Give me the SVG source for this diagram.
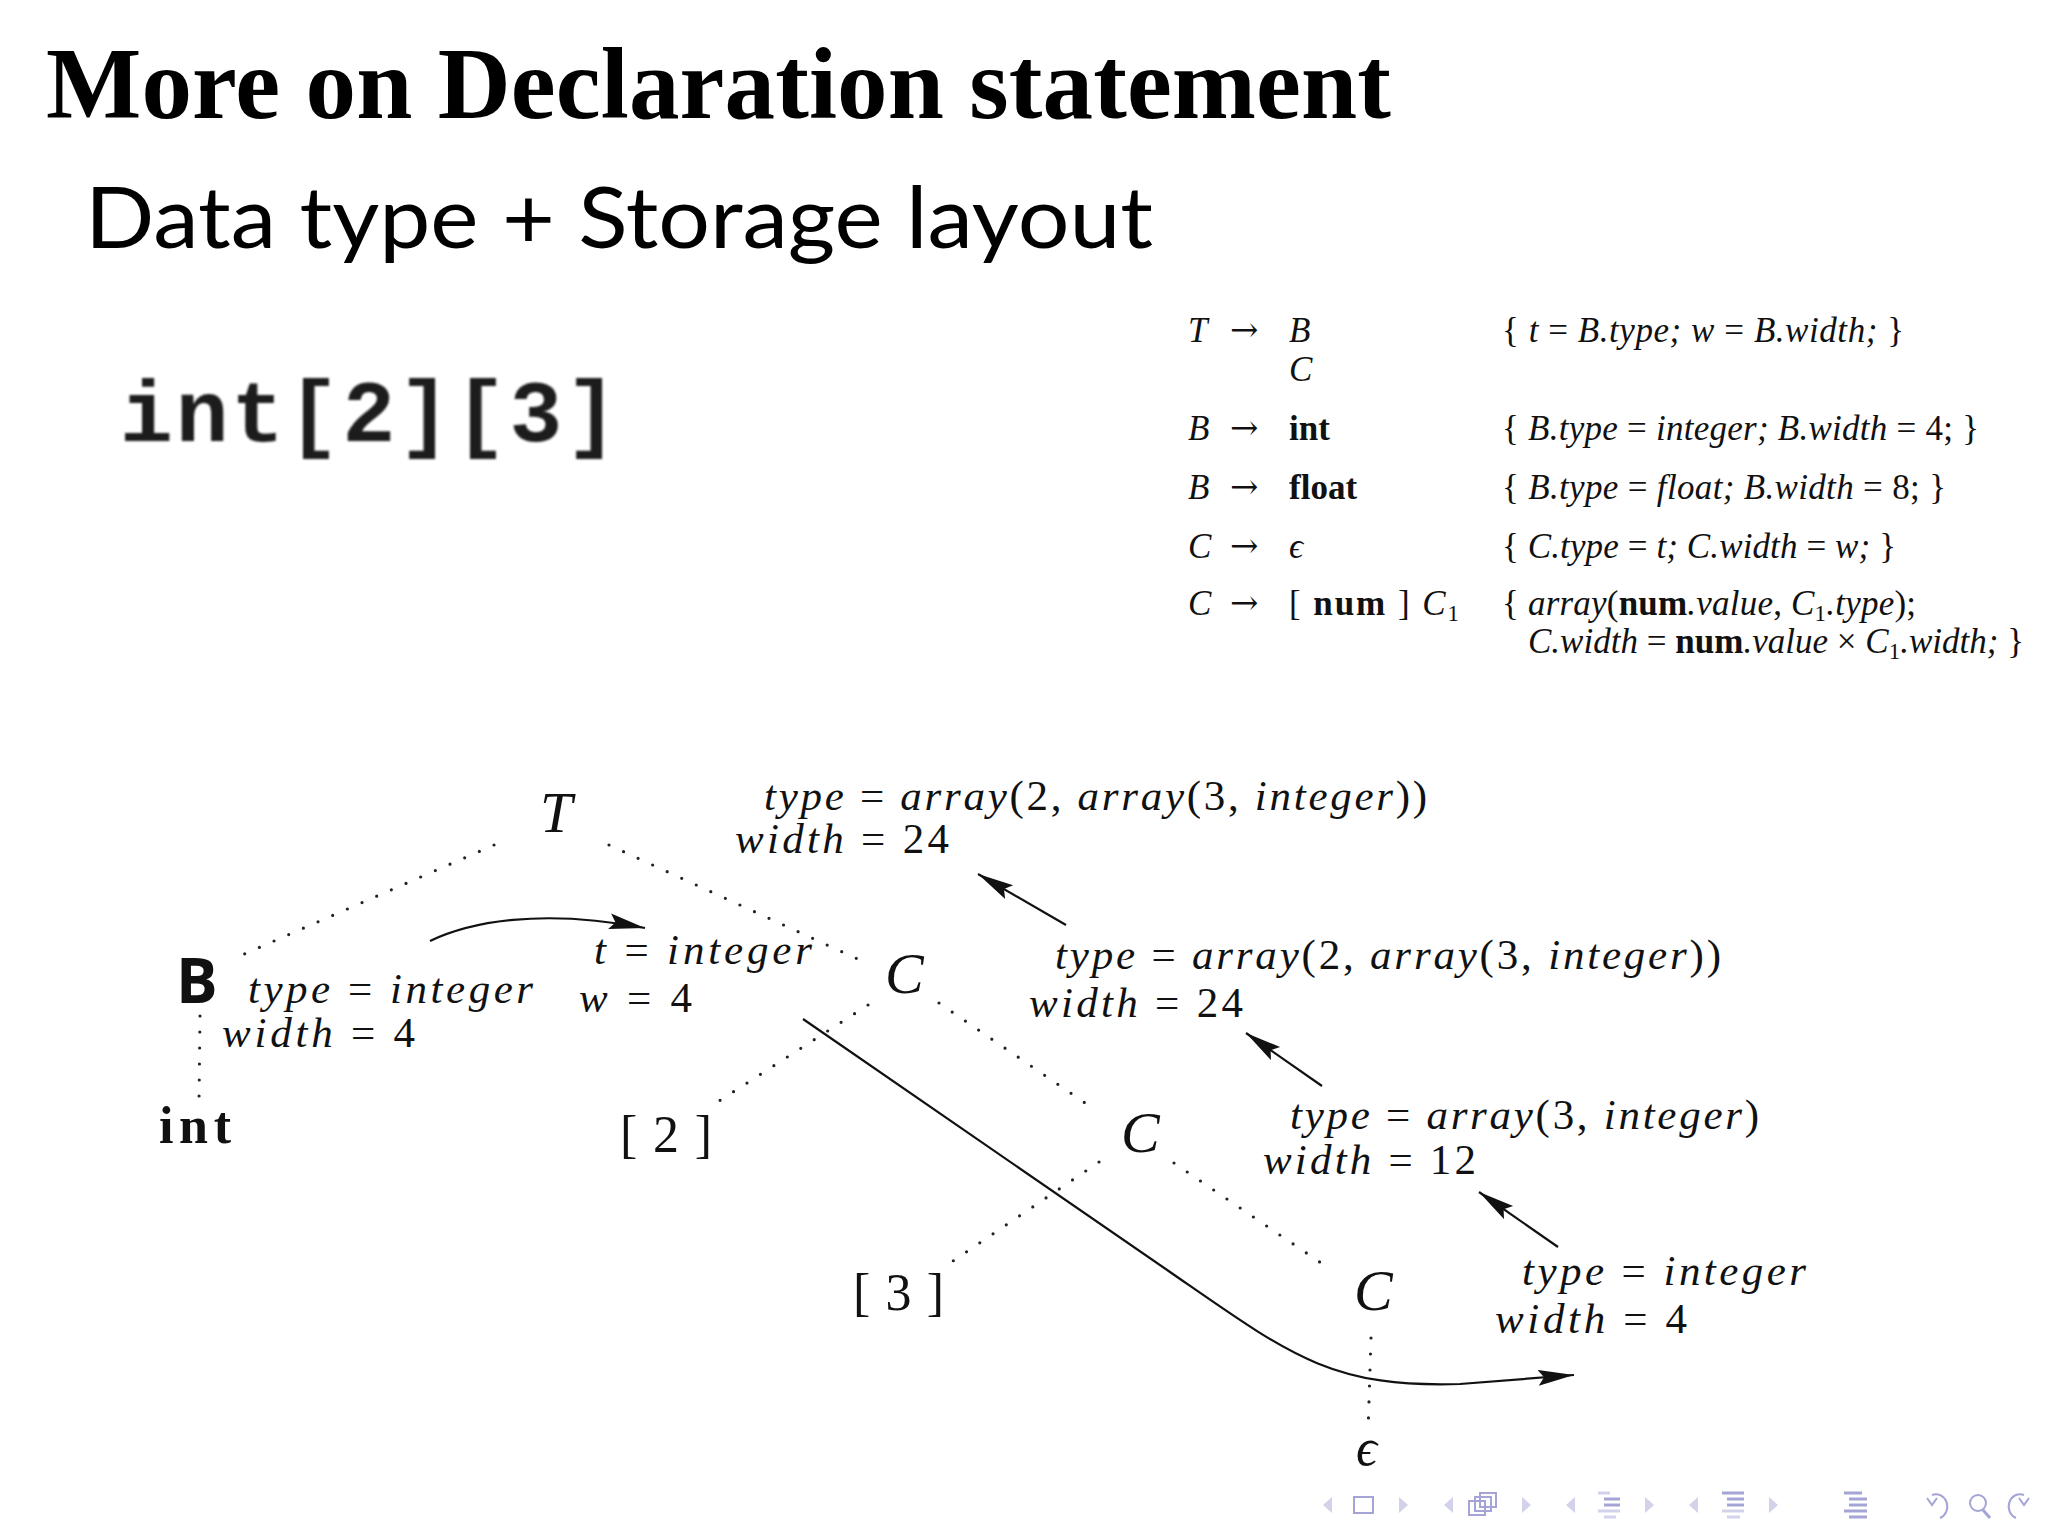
<svg xmlns="http://www.w3.org/2000/svg" width="2048" height="1540" viewBox="0 0 2048 1540">
<style>
.title{font-family:"Liberation Serif",serif;font-weight:bold;font-size:101px;fill:#000}
.sub{font-family:Lato,"Liberation Sans",sans-serif;font-size:86px;fill:#000}
.code{font-family:"Liberation Mono",monospace;font-size:88px;font-weight:bold;fill:#1a1a1a}
.g{font-family:"Liberation Serif","DejaVu Serif",serif;font-size:35px;fill:#111}
.arrow{font-family:"DejaVu Serif",serif;font-size:34px;fill:#111}
.i{font-style:italic}
.b{font-weight:bold;font-style:normal}
.up{font-style:normal}
.ann{font-family:"Liberation Serif","DejaVu Serif",serif;font-size:43px;font-style:italic;fill:#111}
.node{font-family:"Liberation Serif","DejaVu Serif",serif;font-size:58px;font-style:italic;fill:#111}
.term{font-family:"Liberation Serif","DejaVu Serif",serif;font-size:52px;fill:#111}
.dot{stroke:#222;stroke-width:3.2;stroke-linecap:round;stroke-dasharray:0 16;fill:none}
.arr{stroke:#111;stroke-width:2.2;fill:none;marker-end:url(#ah)}
.navt{fill:#d2d2ea}
.navs{fill:none;stroke:#a4a4d6;stroke-width:2}
.navl{stroke:#a4a4d6;stroke-width:3}
.navll{stroke:#d2d2ea;stroke-width:3}
</style>
<defs>
<marker id="ah" markerUnits="userSpaceOnUse" markerWidth="40" markerHeight="20" refX="36" refY="8" orient="auto">
<path d="M0,0 L36,8 L0,16 L6,8 z" fill="#111"/>
</marker>
<filter id="soft" x="-5%" y="-5%" width="110%" height="110%"><feGaussianBlur stdDeviation="1.2"/></filter>
</defs>
<rect width="2048" height="1540" fill="#fff"/>

<g id="heading">
<text class="title" x="46" y="118" textLength="1345">More on Declaration statement</text>
<text class="sub" x="85" y="248" textLength="1068" lengthAdjust="spacingAndGlyphs">Data type + Storage layout</text>
<text class="code" x="120" y="441" textLength="498" filter="url(#soft)">int[2][3]</text>
</g>

<g id="grammar" class="g">
<text x="1188" y="342" class="i">T</text>
<text x="1230" y="341" class="arrow">→</text>
<text x="1289" y="342" class="i">B</text>
<text x="1289" y="381" class="i">C</text>
<text x="1502" y="342" class="i" textLength="402"><tspan class="up">{ </tspan>t<tspan class="up"> = </tspan>B.type; w<tspan class="up"> = </tspan>B.width; <tspan class="up">}</tspan></text>

<text x="1188" y="440" class="i">B</text>
<text x="1230" y="439" class="arrow">→</text>
<text x="1289" y="440" class="b">int</text>
<text x="1502" y="440" class="i" textLength="477"><tspan class="up">{ </tspan>B.type<tspan class="up"> = </tspan>integer; B.width<tspan class="up"> = 4; }</tspan></text>

<text x="1188" y="499" class="i">B</text>
<text x="1230" y="498" class="arrow">→</text>
<text x="1289" y="499" class="b">float</text>
<text x="1502" y="499" class="i" textLength="444"><tspan class="up">{ </tspan>B.type<tspan class="up"> = </tspan>float; B.width<tspan class="up"> = 8; }</tspan></text>

<text x="1188" y="558" class="i">C</text>
<text x="1230" y="557" class="arrow">→</text>
<text x="1289" y="558" class="i">ϵ</text>
<text x="1502" y="558" class="i" textLength="394"><tspan class="up">{ </tspan>C.type<tspan class="up"> = </tspan>t; C.width<tspan class="up"> = </tspan>w; <tspan class="up">}</tspan></text>

<text x="1188" y="615" class="i">C</text>
<text x="1230" y="614" class="arrow">→</text>
<text x="1289" y="615" textLength="170">[ <tspan class="b">num</tspan> ] <tspan class="i">C</tspan><tspan font-size="23" dy="6">1</tspan></text>
<text x="1502" y="615" class="i" textLength="414"><tspan class="up">{ </tspan>array<tspan class="up">(</tspan><tspan class="b">num</tspan>.value<tspan class="up">, </tspan>C<tspan class="up" font-size="23" dy="6">1</tspan><tspan dy="-6">.type</tspan><tspan class="up">);</tspan></text>
<text x="1528" y="653" class="i" textLength="496">C.width<tspan class="up"> = </tspan><tspan class="b">num</tspan>.value<tspan class="up"> × </tspan>C<tspan class="up" font-size="23" dy="6">1</tspan><tspan dy="-6">.width; </tspan><tspan class="up">}</tspan></text>
</g>

<g id="connectors">
<path class="dot" d="M494,845 L242,955"/>
<path class="dot" d="M609,845 L862,961"/>
<path class="dot" d="M200,1016 L199,1101"/>
<path class="dot" d="M868,1005 L716,1103"/>
<path class="dot" d="M939,1003 L1091,1107"/>
<path class="dot" d="M1099,1162 L950,1263"/>
<path class="dot" d="M1174,1163 L1324,1265"/>
<path class="dot" d="M1371,1338 L1368,1433"/>
<path class="arr" d="M430,941 C470,922 540,908 645,928"/>
<path class="arr" d="M803,1019 L1170,1272 C1290,1355 1330,1388 1460,1384 L1574,1375"/>
<path class="arr" d="M1066,925 L978,874"/>
<path class="arr" d="M1322,1086 L1246,1033"/>
<path class="arr" d="M1558,1247 L1479,1192"/>
</g>

<g id="node-T"><text class="node" x="540" y="832">T</text></g>
<g id="node-B">
<text x="176" y="1003" font-family="'Open Sans','DejaVu Sans',sans-serif" font-weight="bold" font-size="62" fill="#111">B</text>
</g>
<g id="attr-B" class="ann">
<text x="248" y="1003" textLength="285">type<tspan class="up"> = </tspan>integer</text>
<text x="222" y="1047" textLength="193">width<tspan class="up"> = 4</tspan></text>
</g>
<g id="attr-tw" class="ann">
<text x="594" y="964" textLength="218">t<tspan class="up"> = </tspan>integer</text>
<text x="579" y="1012" textLength="113">w<tspan class="up"> = 4</tspan></text>
</g>
<g id="node-int"><text class="term" x="159" y="1143" font-weight="bold" font-size="56" textLength="72">int</text></g>
<g id="attr-T" class="ann">
<text x="764" y="810" textLength="663">type<tspan class="up"> = </tspan>array<tspan class="up">(2, </tspan>array<tspan class="up">(3, </tspan>integer<tspan class="up">))</tspan></text>
<text x="735" y="853" textLength="214">width<tspan class="up"> = 24</tspan></text>
</g>
<g id="node-C1"><text class="node" x="885" y="993">C</text></g>
<g id="attr-C1" class="ann">
<text x="1055" y="969" textLength="666">type<tspan class="up"> = </tspan>array<tspan class="up">(2, </tspan>array<tspan class="up">(3, </tspan>integer<tspan class="up">))</tspan></text>
<text x="1029" y="1017" textLength="214">width<tspan class="up"> = 24</tspan></text>
</g>
<g id="node-2"><text class="term" x="620" y="1152" textLength="92">[ 2 ]</text></g>
<g id="node-C2"><text class="node" x="1121" y="1152">C</text></g>
<g id="attr-C2" class="ann">
<text x="1290" y="1129" textLength="469">type<tspan class="up"> = </tspan>array<tspan class="up">(3, </tspan>integer<tspan class="up">)</tspan></text>
<text x="1263" y="1174" textLength="213">width<tspan class="up"> = 12</tspan></text>
</g>
<g id="node-3"><text class="term" x="853" y="1310" textLength="91">[ 3 ]</text></g>
<g id="node-C3"><text class="node" x="1354" y="1310">C</text></g>
<g id="attr-C3" class="ann">
<text x="1522" y="1285" textLength="284">type<tspan class="up"> = </tspan>integer</text>
<text x="1495" y="1333" textLength="192">width<tspan class="up"> = 4</tspan></text>
</g>
<g id="node-eps"><text class="term" x="1356" y="1465" font-style="italic">ϵ</text></g>

<g id="nav">
<polygon class="navt" points="1332,1497 1323,1505 1332,1513"/>
<rect class="navs" x="1354" y="1497" width="19" height="16"/>
<polygon class="navt" points="1399,1497 1408,1505 1399,1513"/>
<polygon class="navt" points="1453,1497 1444,1505 1453,1513"/>
<rect class="navs" x="1480" y="1493" width="16" height="14" fill="#fff"/>
<rect class="navs" x="1475" y="1497" width="16" height="14" fill="#fff"/>
<rect class="navs" x="1469" y="1501" width="16" height="14" fill="#fff"/>
<polygon class="navt" points="1522,1497 1531,1505 1522,1513"/>
<polygon class="navt" points="1575,1497 1566,1505 1575,1513"/>
<line class="navll" x1="1598" y1="1493" x2="1610" y2="1493"/>
<line class="navl" x1="1604" y1="1499" x2="1620" y2="1499"/>
<line class="navl" x1="1604" y1="1505" x2="1620" y2="1505"/>
<line class="navll" x1="1598" y1="1511" x2="1620" y2="1511"/>
<line class="navll" x1="1604" y1="1517" x2="1616" y2="1517"/>
<polygon class="navt" points="1645,1497 1654,1505 1645,1513"/>
<polygon class="navt" points="1698,1497 1689,1505 1698,1513"/>
<line class="navl" x1="1722" y1="1493" x2="1744" y2="1493"/>
<line class="navl" x1="1727" y1="1499" x2="1744" y2="1499"/>
<line class="navl" x1="1727" y1="1505" x2="1744" y2="1505"/>
<line class="navll" x1="1722" y1="1511" x2="1744" y2="1511"/>
<line class="navll" x1="1727" y1="1517" x2="1740" y2="1517"/>
<polygon class="navt" points="1769,1497 1778,1505 1769,1513"/>
<line class="navl" x1="1844" y1="1493" x2="1862" y2="1493"/>
<line class="navl" x1="1849" y1="1499" x2="1867" y2="1499"/>
<line class="navl" x1="1849" y1="1505" x2="1867" y2="1505"/>
<line class="navl" x1="1844" y1="1511" x2="1867" y2="1511"/>
<line class="navl" x1="1849" y1="1517" x2="1867" y2="1517"/>
<path class="navs" d="M1932,1495 A11,12 0 1 1 1940,1518"/>
<path class="navs" d="M1927,1498 L1932,1505 L1937,1498"/>
<circle class="navs" cx="1978" cy="1503" r="8"/>
<line class="navl" x1="1983" y1="1510" x2="1990" y2="1518"/>
<path class="navs" d="M2024,1495 A11,12 0 1 0 2016,1518"/>
<path class="navs" d="M2019,1498 L2024,1505 L2029,1498"/>
</g>
</svg>
